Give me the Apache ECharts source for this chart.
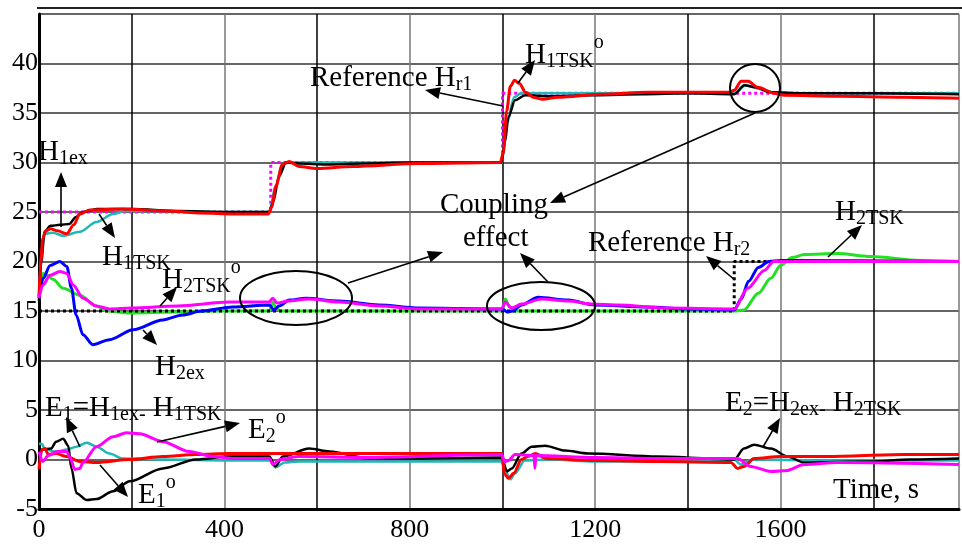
<!DOCTYPE html>
<html>
<head>
<meta charset="utf-8">
<script src="https://cdn.jsdelivr.net/npm/echarts@6/dist/echarts.min.js"></script>
<style>
html, body { margin: 0; padding: 0; background: #fff; }
#main { width: 962px; height: 545px; }
</style>
</head>
<body>
<div id="main"></div>
<script>
// axis ticks
var xLabels = [0, 400, 800, 1200, 1600];
var yLabels = [-5, 0, 5, 10, 15, 20, 25, 30, 35, 40];

// tank 1 level: reference, measured, TSK model, TSK observer  [time s, level]
var refH1 = [[0, 25], [500, 25], [500, 30], [1000, 30], [1000, 37], [1985, 37]];
var h1ex = [[0, 16], [5, 20], [12, 23], [25, 23.6], [45, 23.7], [65, 23.8], [80, 24.5], [95, 25.0], [125, 25.3], [200, 25.3], [300, 25.1], [400, 25.0], [497, 25.0], [505, 26.0], [518, 28.6], [533, 30.0], [560, 29.9], [620, 29.8], [700, 29.9], [800, 30.0], [998, 30.0], [1005, 32], [1013, 34.6], [1027, 36.3], [1049, 36.8], [1100, 36.7], [1200, 36.8], [1300, 36.9], [1400, 37.0], [1500, 36.9], [1522, 37.8], [1545, 37.6], [1579, 37.1], [1650, 37.0], [1800, 37.0], [1985, 36.9]];
var h1tsk = [[0, 16], [5, 21], [12, 22.8], [30, 22.9], [52, 22.6], [88, 23.0], [124, 24.0], [160, 24.8], [185, 25.1], [250, 25.1], [400, 25.0], [497, 25.0], [510, 27.5], [525, 29.8], [540, 30.0], [700, 30.0], [998, 30.0], [1010, 34], [1025, 36.6], [1040, 37.0], [1200, 37.0], [1500, 37.0], [1525, 37.8], [1560, 37.4], [1590, 37.0], [1985, 37.0]];
var h1tskO = [[0, 16.5], [4, 20], [8, 22.3], [15, 23.1], [25, 23.3], [40, 23.1], [60, 22.8], [75, 23.7], [88, 24.8], [110, 25.2], [180, 25.3], [275, 25.1], [350, 24.9], [420, 24.8], [495, 24.8], [502, 25.5], [511, 27.6], [525, 29.8], [540, 30.1], [561, 29.6], [600, 29.4], [676, 29.6], [820, 29.9], [995, 30.0], [1002, 31], [1009, 35.2], [1017, 37.7], [1026, 38.3], [1036, 38.0], [1050, 37.1], [1066, 36.6], [1085, 36.4], [1120, 36.6], [1213, 36.9], [1314, 37.1], [1490, 37.1], [1500, 37.3], [1515, 38.2], [1530, 38.2], [1551, 37.6], [1586, 37.0], [1608, 36.8], [1723, 36.7], [1866, 36.6], [1985, 36.5]];

// tank 2 level
var refH2 = [[0, 15], [1500, 15], [1500, 20], [1985, 20]];
var h2ex = [[0, 16.3], [9, 18.3], [24, 19.6], [45, 20.0], [60, 19.5], [70, 17.3], [80, 14.6], [95, 12.6], [116, 11.6], [152, 12.1], [203, 13.1], [267, 14.1], [310, 14.6], [350, 15.0], [418, 15.4], [497, 15.6], [507, 15.1], [518, 15.5], [540, 16.1], [576, 16.3], [647, 16.0], [733, 15.6], [820, 15.3], [1000, 15.2], [1010, 14.9], [1022, 15.0], [1041, 15.6], [1077, 16.4], [1142, 16.1], [1199, 15.6], [1314, 15.4], [1400, 15.2], [1500, 15.1], [1515, 16.2], [1531, 18.0], [1552, 19.4], [1575, 20.0], [1600, 20.1], [1985, 20.0]];
var h2tsk = [[0, 16.5], [8, 18.8], [18, 18.6], [30, 18.2], [52, 17.3], [88, 16.6], [124, 15.5], [146, 15.0], [196, 14.8], [300, 14.9], [380, 15.0], [497, 15.0], [504, 15.9], [512, 15.3], [520, 15.0], [1000, 15.0], [1006, 16.2], [1015, 15.4], [1025, 15.0], [1500, 15.0], [1521, 15.1], [1552, 16.8], [1579, 18.3], [1600, 19.6], [1625, 20.4], [1651, 20.7], [1723, 20.8], [1794, 20.5], [1901, 20.1], [1985, 20.0]];
var h2tskO = [[0, 16.3], [8, 17.6], [24, 18.6], [45, 19.0], [60, 18.8], [74, 17.6], [95, 16.3], [124, 15.5], [152, 15.2], [200, 15.3], [300, 15.5], [411, 15.9], [497, 15.9], [504, 16.3], [514, 15.8], [536, 16.0], [583, 16.2], [647, 15.9], [733, 15.5], [820, 15.2], [998, 15.2], [1006, 15.9], [1020, 15.3], [1041, 15.7], [1084, 16.2], [1142, 16.0], [1192, 15.7], [1249, 15.6], [1350, 15.3], [1500, 15.2], [1529, 17.3], [1565, 19.1], [1585, 20.0], [1985, 20.0]];

// estimation errors
var e1 = [[0, 1.6], [6, 1.6], [13, 1.0], [37, 0.8], [60, 1.0], [81, 1.3], [103, 1.7], [124, 1.3], [152, 0.6], [181, 0.1], [267, 0.0], [411, -0.1], [497, -0.1], [510, -0.8], [530, -0.3], [560, -0.2], [700, -0.2], [998, -0.2], [1005, -1.0], [1017, -2.0], [1027, -1.4], [1048, -0.1], [1100, 0.0], [1200, -0.2], [1335, -0.2], [1500, 0.0], [1514, -0.5], [1540, 0.0], [1700, -0.1], [1985, -0.1]];
var e2 = [[0, -0.4], [6, 1.0], [26, 1.1], [37, 1.8], [52, 2.1], [63, 1.4], [70, -0.9], [81, -3.4], [103, -4.1], [124, -4.0], [160, -3.2], [196, -2.2], [267, -0.9], [339, 0.0], [411, 0.3], [497, 0.3], [510, -0.7], [526, 0.3], [583, 1.1], [627, 0.8], [712, 0.1], [800, 0.1], [998, 0.2], [1010, -1.2], [1020, -0.9], [1041, 0.6], [1063, 1.3], [1092, 1.4], [1135, 0.9], [1185, 0.6], [1335, 0.3], [1500, 0.0], [1521, 1.1], [1543, 1.5], [1579, 1.1], [1615, 0.3], [1650, -0.3], [1794, -0.2], [1880, 0.0], [1985, 0.1]];
var e1O = [[0, -1.0], [6, 1.0], [13, 1.1], [20, 0.5], [37, 0.6], [60, 0.3], [88, -0.2], [124, -0.3], [196, 0.0], [267, 0.3], [339, 0.5], [411, 0.6], [998, 0.6], [1005, -1.5], [1013, -1.9], [1024, -1.4], [1041, 0.0], [1055, 0.3], [1071, 0.6], [1094, 0.1], [1200, -0.1], [1335, -0.2], [1493, -0.3], [1507, -0.9], [1521, -0.7], [1543, 0.1], [1600, 0.3], [1700, 0.3], [1865, 0.5], [1985, 0.5]];
var e2O = [[0, 0.8], [8, -0.2], [20, 0.4], [40, 0.8], [60, 0.8], [67, 0.2], [77, -1.0], [88, -0.9], [95, -0.3], [124, 1.3], [160, 2.3], [189, 2.7], [217, 2.6], [267, 1.8], [324, 0.8], [375, 0.3], [420, 0.1], [497, 0.1], [505, -0.5], [520, 0.0], [560, 0.3], [700, 0.2], [998, 0.5], [1005, -0.2], [1013, -0.1], [1027, 0.5], [1068, 0.4], [1070, -0.9], [1072, 0.4], [1200, 0.2], [1335, 0.1], [1507, 0.1], [1535, -0.7], [1579, -1.2], [1615, -1.1], [1650, -0.5], [1723, -0.3], [1985, -0.5]];

var serif = '"Liberation Serif", "Times New Roman", serif';

function curve(data, color, width, z) {
	return {
		type: 'line', data: data, z: z, symbol: 'none', smooth: 0.3, smoothMonotone: 'x',
		lineStyle: { color: color, width: width }, animation: false
	};
}
function dotted(data, color, z) {
	return {
		type: 'line', data: data, z: z, symbol: 'none',
		lineStyle: { color: color, width: 3, type: [3, 3] }, animation: false
	};
}

// annotation helpers (pixel positions of the figure's notes)
var ctx = document.createElement('canvas').getContext('2d');
function textW(s, f) {
	ctx.font = f + 'px ' + serif;
	return ctx.measureText(s).width;
}
function label(x, base, parts) {
	var out = [], cx = x;
	parts.forEach(function (p) {
		var f = p[1] === 'n' ? 29 : 20;
		var b = p[1] === 'n' ? base : (p[1] === 'b' ? base + 4 : base - 15);
		out.push({
			type: 'text', x: cx, y: b - 0.34 * f, z: 100,
			style: { text: p[0], font: f + 'px ' + serif, fill: '#000', align: 'left', verticalAlign: 'middle' }
		});
		cx += textW(p[0], f);
	});
	return out;
}
function arrow(x1, y1, x2, y2) {
	var dx = x2 - x1, dy = y2 - y1, L = Math.sqrt(dx * dx + dy * dy);
	var ux = dx / L, uy = dy / L, hl = 15, hw = 6;
	var bx = x2 - ux * hl, by = y2 - uy * hl;
	return [
		{ type: 'line', z: 100, shape: { x1: x1, y1: y1, x2: bx, y2: by }, style: { stroke: '#000', lineWidth: 1.6 } },
		{ type: 'polygon', z: 100, shape: { points: [[x2, y2], [bx - uy * hw, by + ux * hw], [bx + uy * hw, by - ux * hw]] }, style: { fill: '#000' } }
	];
}
function ring(cx, cy, rx, ry) {
	return { type: 'ellipse', z: 100, shape: { cx: cx, cy: cy, rx: rx, ry: ry }, style: { stroke: '#000', lineWidth: 2, fill: null } };
}

var notes = [].concat(
	label(38, 162, [['H', 'n'], ['1ex', 'b']]),
	arrow(61, 227, 61, 172),
	label(102, 267, [['H', 'n'], ['1TSK', 'b']]),
	arrow(99, 214, 115, 238),
	label(162, 290, [['H', 'n'], ['2TSK', 'b'], ['o', 'p']]),
	arrow(160, 306, 177, 287),
	label(155, 377, [['H', 'n'], ['2ex', 'b']]),
	arrow(143, 330, 157, 345),
	label(45, 418, [['E', 'n'], ['1', 'b'], ['=H', 'n'], ['1ex-', 'b'], [' H', 'n'], ['1TSK', 'b']]),
	arrow(80, 447, 66, 417),
	label(248, 440, [['E', 'n'], ['2', 'b'], ['o', 'p']]),
	arrow(157, 442, 240, 423),
	label(138, 505, [['E', 'n'], ['1', 'b'], ['o', 'p']]),
	arrow(100, 465, 128, 497),
	label(310, 88, [['Reference H', 'n'], ['r1', 'b']]),
	arrow(503, 106, 425, 90),
	label(525, 65, [['H', 'n'], ['1TSK', 'b'], ['o', 'p']]),
	arrow(518, 83, 535, 60),
	label(440, 215, [['Coupling', 'n']]),
	label(463, 248, [['effect', 'n']]),
	arrow(755, 113, 550, 203),
	arrow(348, 283, 443, 252),
	arrow(548, 282, 520, 253),
	[ring(296, 298, 56, 27), ring(541, 306, 54, 24), ring(755, 88, 25, 24)],
	label(588, 253, [['Reference H', 'n'], ['r2', 'b']]),
	arrow(735, 280, 706, 256),
	label(835, 222, [['H', 'n'], ['2TSK', 'b']]),
	arrow(828, 257, 862, 225),
	label(725, 413, [['E', 'n'], ['2', 'b'], ['=H', 'n'], ['2ex-', 'b'], [' H', 'n'], ['2TSK', 'b']]),
	arrow(763, 447, 780, 418),
	label(833, 500, [['Time, s', 'n']]),
	[{ type: 'line', z: 100, shape: { x1: 37, y1: 8, x2: 962, y2: 8 }, style: { stroke: '#222', lineWidth: 2 } }]
);

var chart = echarts.init(document.getElementById('main'), null, { renderer: 'canvas' });
chart.setOption({
	backgroundColor: '#fff',
	animation: false,
	grid: { left: 39, right: 0, top: 14, bottom: 36 },
	xAxis: {
		type: 'value', min: 0, max: 1985, interval: 200,
		axisLine: { show: true, onZero: false, lineStyle: { color: '#000', width: 3 } },
		axisTick: { show: false },
		axisLabel: {
			color: '#000', fontFamily: serif, fontSize: 26, margin: 8,
			formatter: function (v) { return xLabels.indexOf(v) >= 0 ? String(v) : ''; }
		},
		splitLine: { show: true, lineStyle: { color: ['#777', '#000'], width: 1.5 } }
	},
	yAxis: {
		type: 'value', min: -5, max: 45, interval: 5,
		axisLine: { show: true, onZero: false, lineStyle: { color: '#000', width: 3 } },
		axisTick: { show: false },
		axisLabel: {
			color: '#000', fontFamily: serif, fontSize: 26, margin: 1,
			formatter: function (v) { return yLabels.indexOf(v) >= 0 ? String(v) : ''; }
		},
		splitLine: { show: true, lineStyle: { color: '#666', width: 2 } }
	},
	series: [
		dotted(refH1, '#ff00ff', 2),
		curve(h1tsk, '#1fb8b8', 2.5, 3),
		curve(h1ex, '#000', 2.5, 4),
		curve(h1tskO, '#ff0000', 3, 5),
		curve(h2tsk, '#22e022', 3, 2),
		dotted(refH2, '#000', 3),
		curve(h2ex, '#0000ff', 3, 4),
		curve(h2tskO, '#ff00ff', 3, 5),
		curve(e1, '#1fb8b8', 2.5, 2),
		curve(e2, '#000', 2.5, 3),
		curve(e1O, '#ff0000', 3, 4),
		curve(e2O, '#ff00ff', 3, 5)
	],
	graphic: notes
});
</script>
</body>
</html>
